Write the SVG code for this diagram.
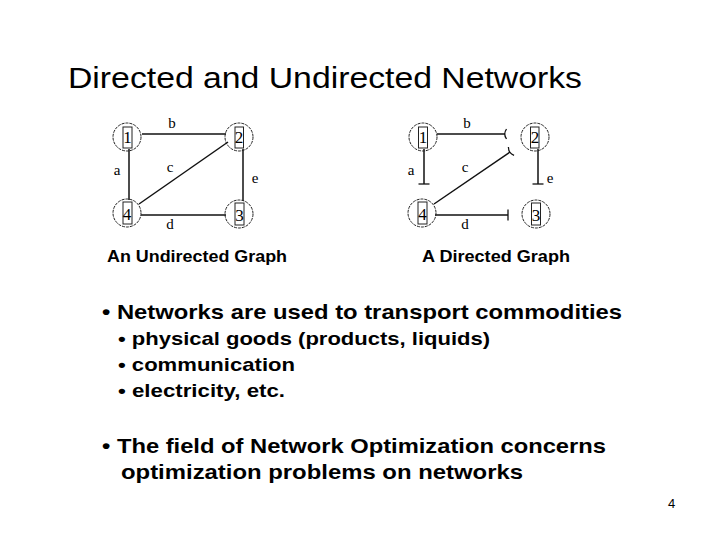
<svg xmlns="http://www.w3.org/2000/svg" width="720" height="540" viewBox="0 0 720 540">
<defs>
<style>
.title{font-family:"Liberation Sans",Arial,sans-serif;font-size:29px;fill:#000}
.cap{font-family:"Liberation Sans",Arial,sans-serif;font-size:16px;font-weight:bold;fill:#000}
.b1{font-family:"Liberation Sans",Arial,sans-serif;font-size:20.5px;font-weight:bold;fill:#000}
.b2{font-family:"Liberation Sans",Arial,sans-serif;font-size:18.5px;font-weight:bold;fill:#000}
.pg{font-family:"Liberation Sans",Arial,sans-serif;font-size:13px;fill:#000}
.lbl{font-family:"Liberation Serif","Times New Roman",serif;font-size:15px;fill:#000;text-anchor:middle}
.num{font-family:"Liberation Serif","Times New Roman",serif;font-size:17px;fill:#000;text-anchor:middle}
.circ{fill:none;stroke:#222;stroke-width:1;stroke-dasharray:3 1}
.box{fill:none;stroke:#222;stroke-width:1}
.edge{fill:none;stroke:#111;stroke-width:1.5}
</style>
<marker id="tick" viewBox="-3 -7 6 14" refX="0" refY="0" markerWidth="6" markerHeight="14" markerUnits="userSpaceOnUse" orient="auto">
<path d="M0,-5.5 L0,5.5" fill="none" stroke="#111" stroke-width="1.3"/>
</marker>
<marker id="arc" viewBox="-4 -7 8 14" refX="0" refY="0" markerWidth="8" markerHeight="14" markerUnits="userSpaceOnUse" orient="auto">
<path d="M1.5,-5 Q-2,0 1.5,5" fill="none" stroke="#111" stroke-width="1.3"/>
</marker>
</defs>
<rect width="720" height="540" fill="#fff"/>

<text class="title" x="68" y="88" textLength="514" lengthAdjust="spacingAndGlyphs">Directed and Undirected Networks</text>

<!-- Undirected graph -->
<g id="undirected-edges">
<line class="edge" x1="142" y1="134" x2="226" y2="134"/>
<line class="edge" x1="129" y1="149" x2="129" y2="200"/>
<line class="edge" x1="243" y1="149" x2="243" y2="201"/>
<line class="edge" x1="141" y1="215" x2="226" y2="215"/>
<line class="edge" x1="139" y1="204" x2="228" y2="142"/>
<text class="lbl" x="172" y="128">b</text>
<text class="lbl" x="117" y="175">a</text>
<text class="lbl" x="170" y="172">c</text>
<text class="lbl" x="255" y="183">e</text>
<text class="lbl" x="170" y="229">d</text>
</g>
<g id="u-node1"><circle class="circ" cx="127" cy="137" r="14"/><rect class="box" x="123" y="127" width="9" height="21"/><text class="num" x="127.5" y="143">1</text></g>
<g id="u-node2"><circle class="circ" cx="239" cy="137" r="14"/><rect class="box" x="235" y="127" width="8.5" height="21"/><text class="num" x="239" y="143">2</text></g>
<g id="u-node4"><circle class="circ" cx="127" cy="213" r="14"/><rect class="box" x="123" y="202" width="9" height="22"/><text class="num" x="127" y="220">4</text></g>
<g id="u-node3"><circle class="circ" cx="239" cy="214" r="14"/><rect class="box" x="235" y="203" width="9" height="22"/><text class="num" x="239.5" y="221">3</text></g>

<!-- Directed graph -->
<g id="directed-edges">
<line class="edge" x1="437" y1="134" x2="505" y2="134" marker-end="url(#arc)"/>
<line class="edge" x1="424" y1="149" x2="424" y2="184" marker-end="url(#tick)"/>
<line class="edge" x1="538" y1="149" x2="538" y2="184" marker-end="url(#tick)"/>
<line class="edge" x1="435" y1="215" x2="508" y2="215" marker-end="url(#tick)"/>
<line class="edge" x1="434" y1="204" x2="510" y2="152" marker-end="url(#arc)"/>
<text class="lbl" x="467" y="128">b</text>
<text class="lbl" x="411" y="175">a</text>
<text class="lbl" x="465" y="172">c</text>
<text class="lbl" x="550" y="183">e</text>
<text class="lbl" x="465" y="229">d</text>
</g>
<g id="d-node1"><circle class="circ" cx="423" cy="137" r="14"/><rect class="box" x="418.5" y="127" width="9" height="21"/><text class="num" x="423" y="143">1</text></g>
<g id="d-node2"><circle class="circ" cx="535" cy="137" r="14"/><rect class="box" x="530.5" y="127" width="8.5" height="21"/><text class="num" x="535" y="143">2</text></g>
<g id="d-node4"><circle class="circ" cx="422" cy="213" r="14"/><rect class="box" x="418" y="202" width="9" height="22"/><text class="num" x="422.5" y="220">4</text></g>
<g id="d-node3"><circle class="circ" cx="536" cy="214" r="14"/><rect class="box" x="531.5" y="203" width="9" height="22"/><text class="num" x="536" y="221">3</text></g>

<text class="cap" x="107" y="262" textLength="180" lengthAdjust="spacingAndGlyphs">An Undirected Graph</text>
<text class="cap" x="422" y="262" textLength="148" lengthAdjust="spacingAndGlyphs">A Directed Graph</text>

<text class="b1" x="102" y="319" textLength="520" lengthAdjust="spacingAndGlyphs">• Networks are used to transport commodities</text>
<text class="b2" x="118" y="345" textLength="372" lengthAdjust="spacingAndGlyphs">• physical goods (products, liquids)</text>
<text class="b2" x="118" y="371" textLength="177" lengthAdjust="spacingAndGlyphs">• communication</text>
<text class="b2" x="118" y="397" textLength="167" lengthAdjust="spacingAndGlyphs">• electricity, etc.</text>
<text class="b1" x="102" y="453" textLength="504" lengthAdjust="spacingAndGlyphs">• The field of Network Optimization concerns</text>
<text class="b1" x="121" y="479" textLength="402" lengthAdjust="spacingAndGlyphs">optimization problems on networks</text>

<text class="pg" x="668" y="508">4</text>
</svg>
